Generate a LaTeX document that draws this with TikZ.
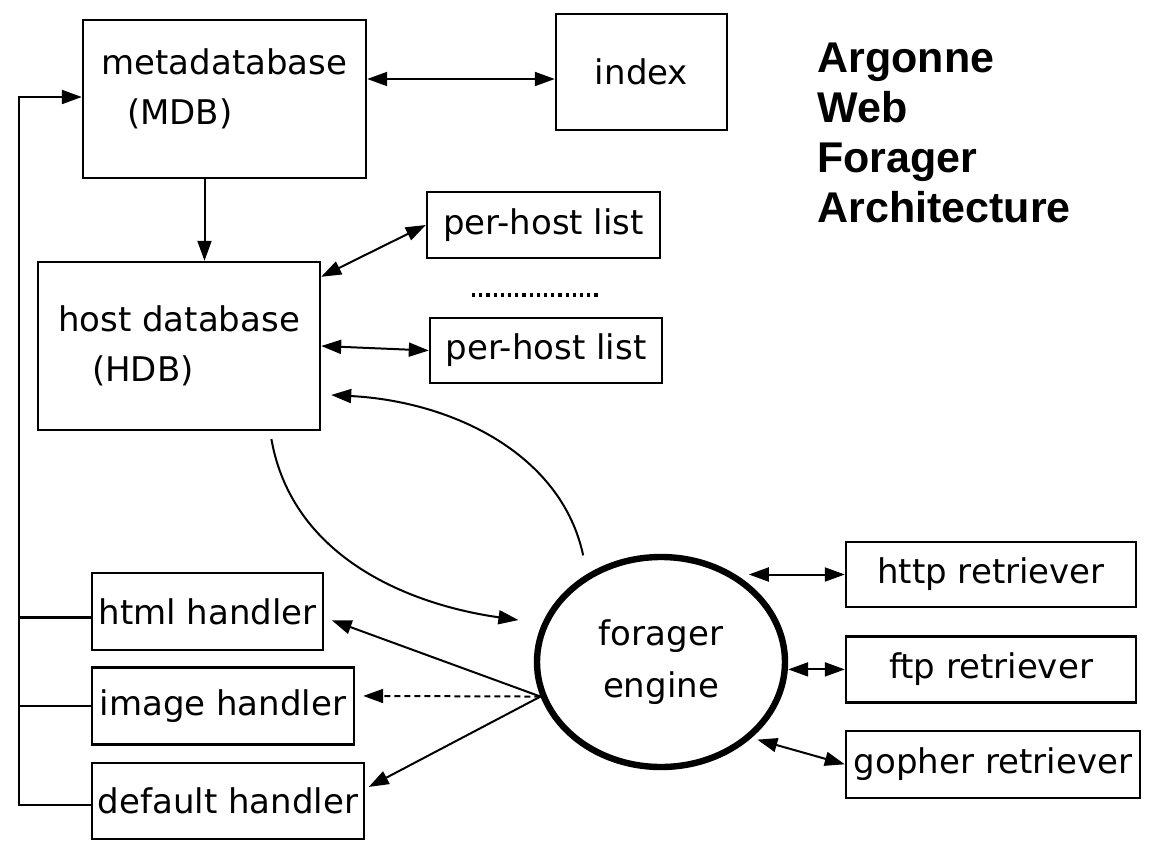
\documentclass[tikz,border=0pt]{standalone}
\usepackage{fontspec}
\setmainfont{DejaVu Sans}
\newfontfamily\titlefont{Liberation Sans}
\usetikzlibrary{arrows.meta, positioning, shapes.geometric}

\begin{document}
\begin{tikzpicture}[
    x=0.5pt, y=-0.5pt,
    box/.style={
        draw,
        line width=1.2pt,
        inner sep=0pt,
        font=\fontsize{17}{25}\selectfont
    },
    hub/.style={
        draw,
        ellipse,
        line width=3.2pt,
        minimum width=124pt,
        minimum height=105pt,
        align=center,
        font=\fontsize{17}{26}\selectfont
    },
    arr/.style={line width=1pt, -{Triangle[length=10pt,width=7pt]}},
    darr/.style={line width=1pt, {Triangle[length=10pt,width=7pt]}-{Triangle[length=10pt,width=7pt]}}
]
\useasboundingbox (0,0) rectangle (1151,846);

% Databases
\node[box, minimum width=141.5pt, minimum height=79pt] (mdb) at (224.5,99)
    {\raisebox{5pt}[\height][\depth]{\begin{tabular}{@{}l@{}}metadatabase\\\hspace*{0.75em}(MDB)\end{tabular}}};
\node[box, minimum width=85.5pt, minimum height=58pt] (index) at (641.5,72) {index};
\node[box, minimum width=141pt, minimum height=84pt, align=left] (hdb) at (179,346) {host database\\\hspace*{1em}(HDB)};
\node[box, minimum width=116.5pt, minimum height=33pt] (phlA) at (543.5,225) {per-host list};
\node[box, minimum width=116pt, minimum height=32.5pt] (phlB) at (546,350.5) {per-host list};

% Engine, handlers and retrievers
\node[hub] (engine) at (661,662) {forager\\engine};
\node[box, minimum width=115.5pt, minimum height=38.5pt] (html) at (207.5,611.5) {html handler};
\node[box, minimum width=131pt, minimum height=38.5pt, below=7.5pt of html.south west, anchor=north west] (image) {image handler};
\node[box, minimum width=136pt, minimum height=38pt, below=8pt of image.south west, anchor=north west] (default) {default handler};
\node[box, minimum width=145pt, minimum height=32.5pt] (http) at (991,574.5) {http retriever};
\node[box, minimum width=145pt, minimum height=33pt, below=13.5pt of http.south west, anchor=north west] (ftp) {ftp retriever};
\node[box, minimum width=147pt, minimum height=33.5pt, below=13pt of ftp.south west, anchor=north west] (gopher) {gopher retriever};

% Title
\node[anchor=north west, inner sep=0pt, align=left,
      font=\titlefont\bfseries\fontsize{21.5}{25}\selectfont] (title) at (817,43)
      {Argonne\\Web\\Forager\\Architecture};

\coordinate (bustop) at (19,97);

% Links
\draw[darr] ([yshift=10pt]mdb.east) -- ([yshift=10pt]mdb.east -| index.west);
\draw[arr] ([xshift=-10pt]mdb.south) -- ([xshift=-10pt]mdb.south |- hdb.north);
\draw[darr] ([yshift=-8pt]hdb.north east) -- (phlA.west);
\draw[darr] (hdb.east) -- (phlB.west);
\draw[line width=1.6pt, dotted] (472,295) -- (600,295);

\draw[arr, shorten <=9.5pt] (engine.130) to[out=102, in=-3] ([xshift=5pt, yshift=-24.5pt]hdb.east);
\draw[arr, shorten <=4pt, shorten >=12pt] ([xshift=45.5pt]hdb.south) to[out=-80, in=172] (engine.162);

\draw[arr, shorten >=4pt] (engine.196) -- ([yshift=-3pt]html.east);
\draw[arr, densely dashed, shorten >=4pt] (engine.196) -- ([yshift=5pt]image.east);
\draw[arr, shorten >=2pt] (engine.196) -- ([yshift=6pt]default.east);

\draw[darr] ([xshift=-48pt]http.west) -- (http.west);
\draw[darr] (engine.east |- ftp.west) -- (ftp.west);
\draw[darr, shorten <=3pt] (engine.-40) -- (gopher.west);

% Handler bus
\draw[line width=1.1pt] ([yshift=-3pt]html.west) -- ([yshift=-3pt]html.west -| bustop);
\draw[line width=1.1pt] (image.west) -- (image.west -| bustop);
\draw[arr, line width=1.1pt] ([yshift=-2pt]default.west) -| (bustop) -- (bustop -| mdb.west);
\end{tikzpicture}
\end{document}
